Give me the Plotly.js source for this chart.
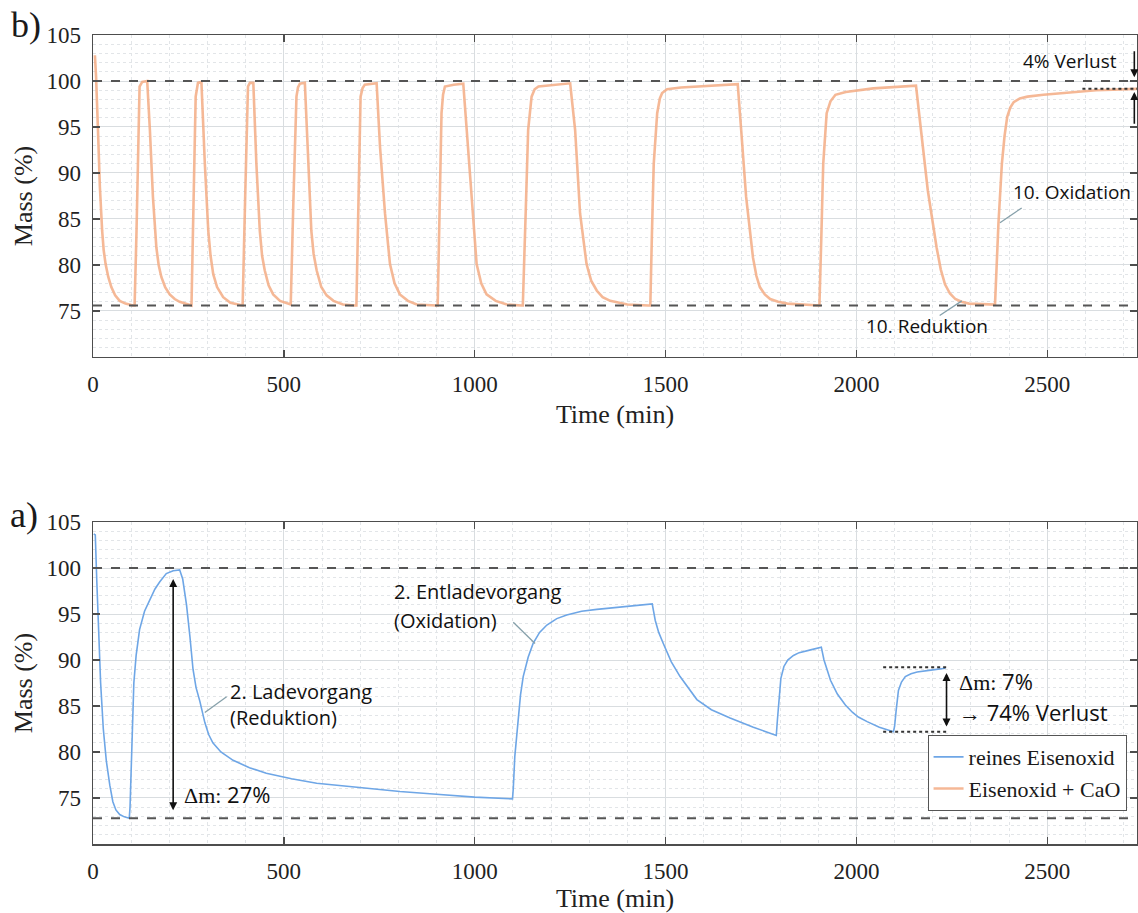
<!DOCTYPE html>
<html>
<head>
<meta charset="utf-8">
<script src="https://cdn.plot.ly/plotly-3.0.1.min.js"></script>
<style>html,body{margin:0;padding:0;background:#fff;}#chart{width:1138px;height:913px;}</style>
</head>
<body>
<div id="chart"></div>
<script>
// ---- Data ----
// Panel b) Eisenoxid + CaO
const caoTime = [5,8,13,18,24,28,33,40,48,58,70,85,105,
  109,114,118,122,129,142,149,157,166,172,179,189,201,214,227,240,253,
  258,263,269,275,284,293,302,308,315,325,341,360,385,
  392,399,406,411,420,428,437,443,450,460,472,490,516,
  518,525,533,537,542,555,564,572,578,586,598,612,630,655,686,
  690,696,701,706,712,743,752,765,778,790,804,825,848,900,
  903,908,913,917,922,945,970,979,992,1005,1017,1031,1055,1084,1123,
  1126,1133,1140,1149,1157,1167,1210,1250,1263,1276,1293,1305,1320,1335,1355,1400,1455,
  1460,1464,1469,1478,1485,1491,1504,1540,1594,1689,1698,1711,1729,1738,1747,1760,1774,1795,1819,1900,
  1903,1908,1913,1922,1932,1945,1972,2044,2100,2156,2169,2187,2210,2221,2232,2245,2259,2275,2295,2358,
  2363,2372,2381,2388,2395,2403,2412,2428,2448,2490,2538,2628,2740];
const caoMass = [102.8,100.5,94.7,88.5,83.7,81.6,80.1,78.7,77.6,76.7,76.1,75.8,75.6,
  75.6,83.7,92,99.4,99.9,100,94.7,87.4,81.9,80,78.7,77.6,76.8,76.3,76.0,75.8,75.6,
  75.6,86,98.3,99.8,99.9,91,83.7,81,79,77.6,76.5,75.9,75.6,
  75.6,88,99.4,99.8,99.8,91,83.7,81,79.4,77.8,76.8,76.1,75.7,
  75.7,87,98.3,99.3,99.7,99.8,91,83.7,81.2,79.4,77.6,76.7,76.1,75.7,75.6,
  75.6,88,98.3,99.2,99.6,99.75,92.8,85.6,80.1,78,76.8,76.1,75.7,75.6,
  75.6,86,96.5,98.5,99.4,99.6,99.7,94.7,87.4,80.1,78,76.8,76.1,75.7,75.6,
  75.6,85,94.7,98.3,99.1,99.4,99.6,99.75,94.7,85.6,80.1,78.3,77.2,76.5,76.1,75.7,75.6,
  75.6,83,91,96.5,98.1,98.7,99.1,99.3,99.45,99.65,94.7,87.4,80.8,78.8,77.6,76.8,76.3,76,75.8,75.6,
  75.6,83,91,96.5,97.8,98.5,98.8,99.2,99.35,99.5,94.7,88.1,81.9,79.5,77.9,76.9,76.3,76,75.8,75.7,
  75.7,84.5,91,94,96.1,97.1,97.7,98.1,98.3,98.5,98.7,99.0,99.15];

// Panel a) reines Eisenoxid
const pureTime = [2,6,10,15,20,27,35,44,52,60,70,82,95,
  97,100,103,107,113,122,135,149,162,175,192,210,227,
  235,245,254,262,270,280,293,303,314,335,367,410,454,520,586,700,804,900,1000,1099,
  1101,1105,1113,1120,1127,1140,1153,1170,1189,1215,1241,1280,1320,1390,1465,
  1473,1482,1494,1515,1538,1560,1582,1620,1669,1730,1790,
  1793,1797,1802,1810,1820,1835,1850,1880,1908,
  1915,1932,1950,1971,1990,2005,2028,2060,2097,
  2100,2104,2110,2118,2128,2143,2159,2195,2233];
const pureMass = [103.7,103.6,98.5,92.5,87.5,82.5,79,76.4,74.6,73.7,73.2,72.95,72.8,
  74,78,83,87.5,90.5,93.3,95.3,96.5,97.7,98.5,99.4,99.7,99.8,
  98.8,96,92.5,89,87,85.5,83.2,81.9,81,80,79.1,78.3,77.7,77.1,76.6,76.1,75.7,75.4,75.1,74.9,
  76,79.5,83.5,86.2,88.2,90.3,91.8,93,93.8,94.5,94.9,95.3,95.5,95.8,96.1,
  94.3,93,91.8,89.8,88.2,86.9,85.7,84.6,83.7,82.7,81.8,
  83.5,86,88,89.3,90,90.5,90.8,91.1,91.4,
  90,87.8,86.3,85.1,84.3,83.8,83.3,82.7,82.2,
  82.8,84.5,86.7,87.6,88.2,88.5,88.7,88.9,89.1];

const seriesNames = ['reines Eisenoxid', 'Eisenoxid + CaO'];
const xTicks = [0,500,1000,1500,2000,2500];
const yTicks = [75,80,85,90,95,100,105];
const refTopB = [100, 75.6];
const refTopA = [100, 72.8];

// ---- Styling ----
const SERIF = 'Liberation Serif, Times New Roman, serif';
const SANS = 'Open Sans, Noto Sans, sans-serif';
const AX = '#4d4d4d';

function xAxis(anchor){
  return {
    anchor: anchor, range:[0,2735], tickvals:xTicks, ticktext:xTicks.map(String),
    showline:true, linecolor:AX, linewidth:1.5, mirror:'ticks',
    ticks:'inside', ticklen:7, tickcolor:AX, tickwidth:1.5,
    showgrid:true, gridcolor:'#d9dde0', gridwidth:1, zeroline:false,
    minor:{dtick:100, showgrid:true, gridcolor:'#e2e5e8', griddash:'dot', gridwidth:1},
    tickfont:{family:SERIF, size:23, color:'#222'}, ticklabelstandoff:6,
    title:{text:'Time (min)', font:{family:SERIF, size:26, color:'#222'}, standoff:8}
  };
}
function yAxis(anchor, domain){
  return {
    anchor: anchor, domain: domain, range:[70,105], tickvals:yTicks,
    showline:true, linecolor:AX, linewidth:1.5, mirror:'ticks',
    ticks:'inside', ticklen:7, tickcolor:AX, tickwidth:1.5,
    showgrid:true, gridcolor:'#d9dde0', gridwidth:1, zeroline:false,
    minor:{dtick:1, showgrid:true, gridcolor:'#e2e5e8', griddash:'dot', gridwidth:1},
    tickfont:{family:SERIF, size:23, color:'#222'}, ticklabelstandoff:6,
    title:{text:'Mass (%)', font:{family:SERIF, size:26, color:'#222'}, standoff:6}
  };
}

const traces = [
  {x: pureTime, y: pureMass, xaxis:'x2', yaxis:'y2', type:'scatter', mode:'lines',
   name: seriesNames[0], line:{color:'#6ea6e6', width:1.6}},
  {x: caoTime, y: caoMass, xaxis:'x', yaxis:'y', type:'scatter', mode:'lines',
   name: seriesNames[1], line:{color:'rgba(243,172,132,0.85)', width:2.6}}
];

const shapes = [];
refTopB.forEach(v => shapes.push({type:'line', xref:'x domain', yref:'y', x0:0, x1:1, y0:v, y1:v,
  line:{color:'#555', width:2, dash:'dash'}}));
refTopA.forEach(v => shapes.push({type:'line', xref:'x2 domain', yref:'y2', x0:0, x1:1, y0:v, y1:v,
  line:{color:'#555', width:2, dash:'dash'}}));
// dotted level markers
shapes.push({type:'line', xref:'x', yref:'y', x0:2592, x1:2740, y0:99.15, y1:99.15, line:{color:'#333', width:2, dash:'dot'}});
shapes.push({type:'line', xref:'x2', yref:'y2', x0:2070, x1:2238, y0:89.2, y1:89.2, line:{color:'#333', width:2, dash:'dot'}});
shapes.push({type:'line', xref:'x2', yref:'y2', x0:2070, x1:2238, y0:82.2, y1:82.2, line:{color:'#333', width:2, dash:'dot'}});
// leader lines
const LEAD = '#86a0aa';
shapes.push({type:'line', xref:'x', yref:'y', x0:2376, y0:84.6, x1:2433, y1:86.2, line:{color:LEAD, width:1.3}});
shapes.push({type:'line', xref:'x', yref:'y', x0:2218, y0:74.5, x1:2276, y1:76.1, line:{color:LEAD, width:1.3}});
shapes.push({type:'line', xref:'x2', yref:'y2', x0:293, y0:84.3, x1:350, y1:86.0, line:{color:LEAD, width:1.3}});
shapes.push({type:'line', xref:'x2', yref:'y2', x0:1158, y0:91.8, x1:1101, y1:94.1, line:{color:LEAD, width:1.3}});

function txt(xref, yref, x, y, text, opts){
  return Object.assign({xref:xref, yref:yref, x:x, y:y, text:text, showarrow:false,
    font:{family:SANS, size:19, color:'#111'}, xanchor:'center', yanchor:'middle'}, opts||{});
}
function arrow(xref, yref, x, y0, y1){
  return {xref:xref, yref:yref, axref:xref, ayref:yref, x:x, y:y1, ax:x, ay:y0, text:'',
    showarrow:true, arrowhead:2, arrowsize:1, arrowwidth:1.6, arrowcolor:'#111', arrowside:'end+start',
    standoff:0, startstandoff:0};
}
function arrow1(xref, yref, x, y0, y1){
  return {xref:xref, yref:yref, axref:xref, ayref:yref, x:x, y:y1, ax:x, ay:y0, text:'',
    showarrow:true, arrowhead:2, arrowsize:1, arrowwidth:1.6, arrowcolor:'#111', standoff:0};
}
const F20 = {font:{family:SANS, size:20, color:'#111'}, xanchor:'left'};
const F22 = {font:{family:SANS, size:22, color:'#111'}, xanchor:'left'};

const annotations = [
  txt('paper','paper',-0.064,1.012,'b)', {font:{family:SERIF, size:36, color:'#1a1a1a'}}),
  txt('paper','paper',-0.066,0.407,'a)', {font:{family:SERIF, size:36, color:'#1a1a1a'}}),
  txt('x','y',2560,102.2,'4% Verlust'),
  txt('x','y',2566,87.9,'10. Oxidation'),
  txt('x','y',2184,73.4,'10. Reduktion'),
  arrow1('x','y',2728,103.4,100.4),
  arrow1('x','y',2728,95.2,98.8),
  txt('x2','y2',354,86.6,'2. Ladevorgang', F20),
  txt('x2','y2',354,83.8,'(Reduktion)', F20),
  txt('x2','y2',783,97.4,'2. Entladevorgang', F20),
  txt('x2','y2',783,94.3,'(Oxidation)', F20),
  txt('x2','y2',234,75.4,'<span style="font-family:Liberation Serif">Δm:</span> 27%', F22),
  arrow('x2','y2',210,73.5,98.8),
  txt('x2','y2',2263,87.7,'<span style="font-family:Liberation Serif">Δm:</span> 7%', F22),
  txt('x2','y2',2263,84.4,'<span style="font-family:Liberation Serif">→</span> 74% Verlust', F22),
  arrow('x2','y2',2236,82.6,88.6)
];

const layout = {
  width:1138, height:913,
  margin:{l:93, r:1, t:35, b:69},
  paper_bgcolor:'#fff', plot_bgcolor:'#fff',
  showlegend:true,
  legend:{x:0.99, xanchor:'right', y:0.1347, yanchor:'top', bgcolor:'#fff',
    bordercolor:'#555', borderwidth:1, font:{family:SERIF, size:22, color:'#1a1a1a'},
    itemwidth:30, tracegroupgap:0},
  xaxis: xAxis('y'),
  yaxis: yAxis('x',[0.602,1]),
  xaxis2: xAxis('y2'),
  yaxis2: yAxis('x2',[0,0.398]),
  shapes: shapes,
  annotations: annotations
};

Plotly.newPlot('chart', traces, layout, {displayModeBar:false, staticPlot:true});
</script>
</body>
</html>
